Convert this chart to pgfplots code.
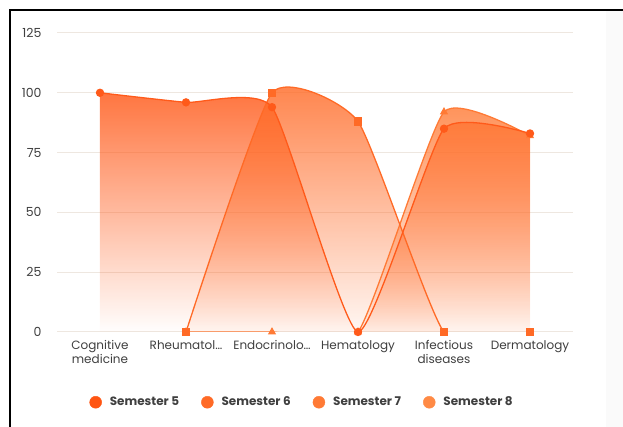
\documentclass[border=0pt]{standalone}
\usepackage{pgfplots}
\pgfplotsset{compat=1.18}
\usepackage{fontspec}
\setmainfont{Poppins}
\usetikzlibrary{fadings}
\definecolor{cA}{HTML}{FF5A1A}
\definecolor{cA2}{HTML}{FF5512}
\definecolor{cB}{HTML}{FF6A26}
\definecolor{cC}{HTML}{FF7A35}
\definecolor{cD}{HTML}{FF8A45}
\definecolor{gridc}{HTML}{EEE7E0}
\definecolor{txt}{HTML}{3F3F3F}
\definecolor{panel}{HTML}{FAFAFA}
\tikzfading[name=fadedown, top color=transparent!15, bottom color=transparent!100]
\begin{document}
\begin{tikzpicture}[x=1pt,y=1pt]
\path[use as bounding box] (0,0) rectangle (623,427);
\fill[panel] (606,0) rectangle (623,417);
\begin{axis}[
  at={(57pt,95pt)}, anchor=south west,
  scale only axis, width=516pt, height=299pt,
  xmin=-0.5, xmax=5.5, ymin=0, ymax=125,
  clip=true, clip mode=individual, clip marker paths=false,
  axis line style={draw=none},
  tick style={draw=none},
  ymajorgrids, grid style={gridc, line width=1pt},
  ytick={0,25,50,75,100,125},
  xtick={0,1,2,3,4,5},
  xticklabels={{Cognitive\\medicine},{Rheumatol…},{Endocrinolo…},Hematology,{Infectious\\diseases},Dermatology},
  xticklabel style={align=center, text=txt, font=\fontsize{12}{13.5}\selectfont, anchor=north, yshift=-5pt},
  yticklabel style={text=txt, font=\fontsize{12.5}{13}\selectfont, anchor=east, xshift=-12pt},
  /pgf/number format/assume math mode=true,
  legend columns=4,
  legend style={at={(0.475,-0.235)}, anchor=center, draw=none, fill=none,
    font=\fontsize{12}{13}\selectfont\bfseries, text=txt,
    /tikz/every odd column/.append style={column sep=6pt},
    /tikz/every even column/.append style={column sep=20pt}},
  legend image code/.code={\fill[#1] (0pt,0pt) circle (6pt);},
  smooth, tension=0.3,
]
% S5
\addplot[draw=none, fill=cA, path fading=fadedown, forget plot] coordinates {(0,100)(1,96)(2,94)(3,0)(4,85)(5,83)} \closedcycle;
% S6
\addplot[draw=none, fill=cB, path fading=fadedown, forget plot] coordinates {(1,0)(2,100)(3,88)(4,0)(5,0)} \closedcycle;
% S7
\addplot[draw=none, fill=cC, path fading=fadedown, forget plot] coordinates {(1,0)(2,0)(3,0)(4,92)(5,82)} \closedcycle;
% lines
\addplot[cC, line width=1.3pt, mark=triangle*, mark size=3.5pt, forget plot] coordinates {(1,0)(2,0)(3,0)(4,92)(5,82)};
\addplot[cB, line width=1.3pt, mark=square*, mark size=3.5pt, forget plot] coordinates {(1,0)(2,100)(3,88)(4,0)(5,0)};
\addplot[cA, line width=1.3pt, mark=*, mark size=3.5pt, forget plot] coordinates {(0,100)(1,96)(2,94)(3,0)(4,85)(5,83)};
\addlegendimage{cA2}\addlegendentry{Semester 5}
\addlegendimage{cB}\addlegendentry{Semester 6}
\addlegendimage{cC}\addlegendentry{Semester 7}
\addlegendimage{cD}\addlegendentry{Semester 8}
\end{axis}
\draw[line width=2pt, black] (10,0) -- (10,417) -- (623,417);
\end{tikzpicture}
\end{document}
